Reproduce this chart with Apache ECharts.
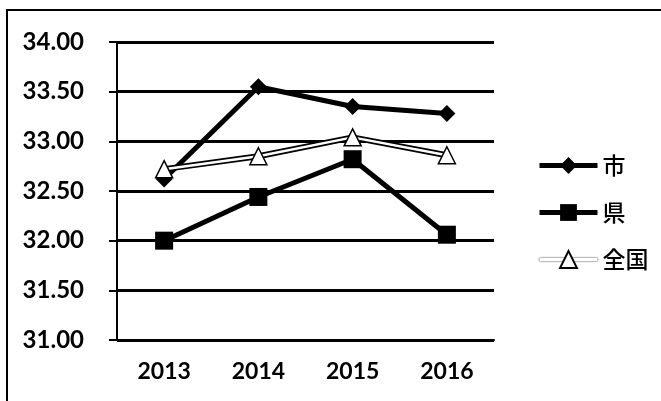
<!DOCTYPE html>
<html>
<head>
<meta charset="utf-8">
<script src="https://cdn.jsdelivr.net/npm/echarts@6/dist/echarts.min.js"></script>
<style>
  * { margin: 0; padding: 0; }
  body { background: #fff; }
  #chart { width: 661px; height: 401px; }
</style>
</head>
<body>
<div id="chart"></div>
<script>
// 年度
var years = ['2013', '2014', '2015', '2016'];
// 各系列の値
var shi = [32.62, 33.55, 33.35, 33.28];
var ken = [32.00, 32.44, 32.82, 32.06];
var zenkoku = [32.72, 32.85, 33.04, 32.86];
// 縦軸の目盛
var yMin = 31, yMax = 34, yStep = 0.5;

var chart = echarts.init(document.getElementById('chart'));
var axisFont = 'Lato, "Liberation Sans", sans-serif';

chart.setOption({
  animation: false,
  graphic: [{
    type: 'rect',
    shape: { x: 7, y: 10, width: 700, height: 450 },
    style: { fill: 'none', stroke: '#000', lineWidth: 2 }
  }],
  grid: { left: 117, right: 167, top: 42, bottom: 61 },
  legend: {
    orient: 'vertical',
    left: 532,
    top: 149,
    itemWidth: 58,
    itemHeight: 21,
    itemGap: 24,
    textStyle: { color: '#000', fontSize: 23, fontWeight: 500, fontFamily: '"Noto Sans CJK JP", sans-serif' },
    data: [
      { name: '市', lineStyle: { color: '#000', width: 5 } },
      { name: '県', lineStyle: { color: '#000', width: 5 } },
      { name: '全国', lineStyle: { color: '#fff', width: 3, shadowColor: '#000', shadowBlur: 2 } }
    ]
  },
  xAxis: {
    type: 'category',
    data: years,
    boundaryGap: true,
    axisLine: { lineStyle: { color: '#000', width: 2 } },
    axisTick: { length: 8, lineStyle: { color: '#000', width: 2 } },
    axisLabel: { color: '#000', fontSize: 23, fontWeight: 'bold', fontFamily: axisFont, margin: 20 }
  },
  yAxis: {
    type: 'value',
    min: yMin,
    max: yMax,
    interval: yStep,
    axisLine: { show: true, lineStyle: { color: '#000', width: 2 } },
    axisTick: { show: true, length: 8, lineStyle: { color: '#000', width: 2 } },
    splitLine: { lineStyle: { color: '#000', width: 3 } },
    axisLabel: {
      color: '#000', fontSize: 24, fontWeight: 'bold', fontFamily: axisFont, margin: 33,
      formatter: function (v) { return v.toFixed(2); }
    }
  },
  series: [
    {
      name: '市', type: 'line', data: shi,
      symbol: 'diamond', symbolSize: 17,
      lineStyle: { color: '#000', width: 5 },
      itemStyle: { color: '#000' }
    },
    {
      name: '県', type: 'line', data: ken,
      symbol: 'rect', symbolSize: 18,
      lineStyle: { color: '#000', width: 5 },
      itemStyle: { color: '#000' }
    },
    {
      // 全国の線の黒い縁取り
      name: '全国枠', type: 'line', data: zenkoku,
      symbol: 'none',
      lineStyle: { color: '#000', width: 6 }
    },
    {
      name: '全国', type: 'line', data: zenkoku,
      symbol: 'triangle', symbolSize: 17,
      lineStyle: { color: '#fff', width: 2.5 },
      itemStyle: { color: '#fff', borderColor: '#000', borderWidth: 1.5 }
    }
  ]
});
</script>
</body>
</html>
